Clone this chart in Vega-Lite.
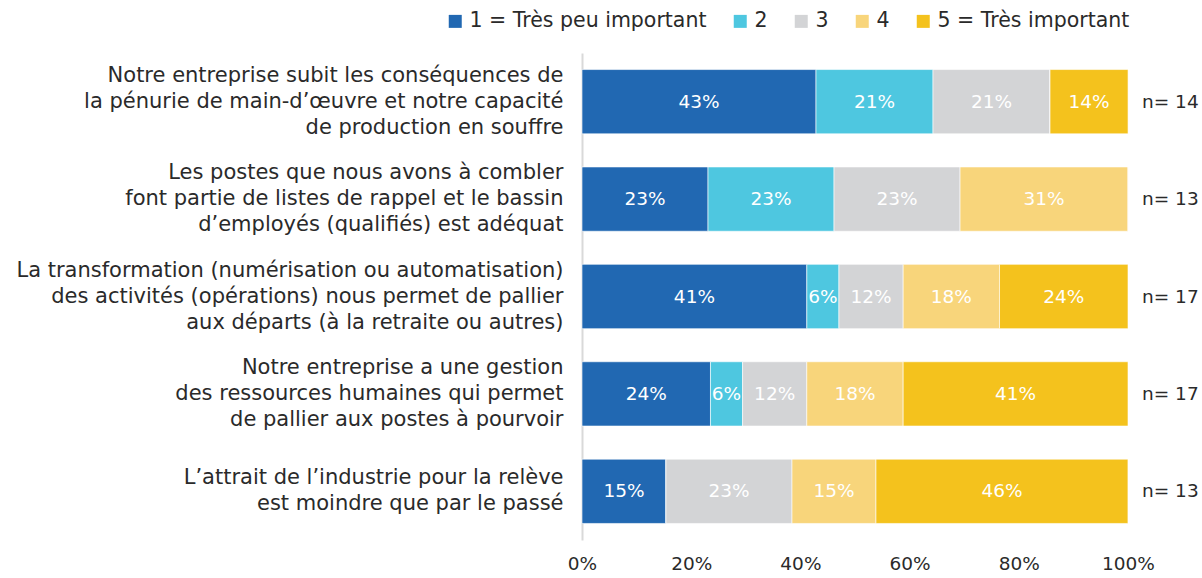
{
  "$schema": "https://vega.github.io/schema/vega-lite/v6.json",
  "width": 546,
  "height": 487,
  "autosize": {"type": "none"},
  "padding": {"left": 582, "top": 53, "right": 74, "bottom": 38},
  "config": {"view": {"stroke": null}, "font": "DejaVu Sans", "text": {"font": "DejaVu Sans"}},
  "data": {
    "values": [
      {"q": "Notre entreprise subit les conséquences de|la pénurie de main-d’œuvre et notre capacité|de production en souffre", "level": 1, "rep": "1 = Très peu important", "pct": 0.4286, "n": "n= 14"},
      {"q": "Notre entreprise subit les conséquences de|la pénurie de main-d’œuvre et notre capacité|de production en souffre", "level": 2, "rep": "2", "pct": 0.2143, "n": "n= 14"},
      {"q": "Notre entreprise subit les conséquences de|la pénurie de main-d’œuvre et notre capacité|de production en souffre", "level": 3, "rep": "3", "pct": 0.2143, "n": "n= 14"},
      {"q": "Notre entreprise subit les conséquences de|la pénurie de main-d’œuvre et notre capacité|de production en souffre", "level": 4, "rep": "4", "pct": 0, "n": "n= 14"},
      {"q": "Notre entreprise subit les conséquences de|la pénurie de main-d’œuvre et notre capacité|de production en souffre", "level": 5, "rep": "5 = Très important", "pct": 0.1429, "n": "n= 14"},
      {"q": "Les postes que nous avons à combler|font partie de listes de rappel et le bassin|d’employés (qualifiés) est adéquat", "level": 1, "rep": "1 = Très peu important", "pct": 0.2308, "n": "n= 13"},
      {"q": "Les postes que nous avons à combler|font partie de listes de rappel et le bassin|d’employés (qualifiés) est adéquat", "level": 2, "rep": "2", "pct": 0.2308, "n": "n= 13"},
      {"q": "Les postes que nous avons à combler|font partie de listes de rappel et le bassin|d’employés (qualifiés) est adéquat", "level": 3, "rep": "3", "pct": 0.2308, "n": "n= 13"},
      {"q": "Les postes que nous avons à combler|font partie de listes de rappel et le bassin|d’employés (qualifiés) est adéquat", "level": 4, "rep": "4", "pct": 0.3077, "n": "n= 13"},
      {"q": "Les postes que nous avons à combler|font partie de listes de rappel et le bassin|d’employés (qualifiés) est adéquat", "level": 5, "rep": "5 = Très important", "pct": 0, "n": "n= 13"},
      {"q": "La transformation (numérisation ou automatisation)|des activités (opérations) nous permet de pallier|aux départs (à la retraite ou autres)", "level": 1, "rep": "1 = Très peu important", "pct": 0.4118, "n": "n= 17"},
      {"q": "La transformation (numérisation ou automatisation)|des activités (opérations) nous permet de pallier|aux départs (à la retraite ou autres)", "level": 2, "rep": "2", "pct": 0.0588, "n": "n= 17"},
      {"q": "La transformation (numérisation ou automatisation)|des activités (opérations) nous permet de pallier|aux départs (à la retraite ou autres)", "level": 3, "rep": "3", "pct": 0.1176, "n": "n= 17"},
      {"q": "La transformation (numérisation ou automatisation)|des activités (opérations) nous permet de pallier|aux départs (à la retraite ou autres)", "level": 4, "rep": "4", "pct": 0.1765, "n": "n= 17"},
      {"q": "La transformation (numérisation ou automatisation)|des activités (opérations) nous permet de pallier|aux départs (à la retraite ou autres)", "level": 5, "rep": "5 = Très important", "pct": 0.2353, "n": "n= 17"},
      {"q": "Notre entreprise a une gestion|des ressources humaines qui permet|de pallier aux postes à pourvoir", "level": 1, "rep": "1 = Très peu important", "pct": 0.2353, "n": "n= 17"},
      {"q": "Notre entreprise a une gestion|des ressources humaines qui permet|de pallier aux postes à pourvoir", "level": 2, "rep": "2", "pct": 0.0588, "n": "n= 17"},
      {"q": "Notre entreprise a une gestion|des ressources humaines qui permet|de pallier aux postes à pourvoir", "level": 3, "rep": "3", "pct": 0.1176, "n": "n= 17"},
      {"q": "Notre entreprise a une gestion|des ressources humaines qui permet|de pallier aux postes à pourvoir", "level": 4, "rep": "4", "pct": 0.1765, "n": "n= 17"},
      {"q": "Notre entreprise a une gestion|des ressources humaines qui permet|de pallier aux postes à pourvoir", "level": 5, "rep": "5 = Très important", "pct": 0.4118, "n": "n= 17"},
      {"q": "L’attrait de l’industrie pour la relève|est moindre que par le passé", "level": 1, "rep": "1 = Très peu important", "pct": 0.1538, "n": "n= 13"},
      {"q": "L’attrait de l’industrie pour la relève|est moindre que par le passé", "level": 2, "rep": "2", "pct": 0, "n": "n= 13"},
      {"q": "L’attrait de l’industrie pour la relève|est moindre que par le passé", "level": 3, "rep": "3", "pct": 0.2308, "n": "n= 13"},
      {"q": "L’attrait de l’industrie pour la relève|est moindre que par le passé", "level": 4, "rep": "4", "pct": 0.1538, "n": "n= 13"},
      {"q": "L’attrait de l’industrie pour la relève|est moindre que par le passé", "level": 5, "rep": "5 = Très important", "pct": 0.4615, "n": "n= 13"}
    ]
  },
  "transform": [
    {"stack": "pct", "groupby": ["q"], "sort": [{"field": "level", "order": "ascending"}], "as": ["x0", "x1"]}
  ],
  "encoding": {
    "y": {
      "field": "q",
      "type": "nominal",
      "sort": [
        "Notre entreprise subit les conséquences de|la pénurie de main-d’œuvre et notre capacité|de production en souffre",
        "Les postes que nous avons à combler|font partie de listes de rappel et le bassin|d’employés (qualifiés) est adéquat",
        "La transformation (numérisation ou automatisation)|des activités (opérations) nous permet de pallier|aux départs (à la retraite ou autres)",
        "Notre entreprise a une gestion|des ressources humaines qui permet|de pallier aux postes à pourvoir",
        "L’attrait de l’industrie pour la relève|est moindre que par le passé"
      ],
      "scale": {"paddingInner": 0.34, "paddingOuter": 0.17},
      "axis": {
        "title": null,
        "ticks": false,
        "labelPadding": 19,
        "labelFontSize": 21,
        "labelColor": "#2a2a2a",
        "labelLineHeight": 26,
        "labelLimit": 700,
        "labelOffset": {"condition": {"test": "length(split(datum.label, '|')) == 2", "value": -13}, "value": -26},
        "labelExpr": "split(datum.label, '|')",
        "domainColor": "#d9d9d9",
        "domainWidth": 2
      }
    }
  },
  "layer": [
    {
      "mark": {"type": "bar", "stroke": "white", "strokeWidth": 1, "strokeOpacity": 0.6},
      "encoding": {
        "x": {
          "field": "x0",
          "type": "quantitative",
          "scale": {"domain": [0, 1], "nice": false},
          "axis": {
            "title": null,
            "format": "%",
            "values": [0, 0.2, 0.4, 0.6, 0.8, 1],
            "ticks": false,
            "domain": false,
            "grid": false,
            "labelFlush": false,
            "labelPadding": 14,
            "labelFontSize": 18.5,
            "labelColor": "#2a2a2a"
          }
        },
        "x2": {"field": "x1"},
        "color": {
          "field": "rep",
          "type": "nominal",
          "scale": {
            "domain": ["1 = Très peu important", "2", "3", "4", "5 = Très important"],
            "range": ["#2168B2", "#4EC7E0", "#D3D4D6", "#F8D57B", "#F4C21D"]
          },
          "legend": {
            "title": null,
            "orient": "none",
            "legendX": -137,
            "legendY": -42,
            "direction": "horizontal",
            "columns": 5,
            "symbolType": "square",
            "symbolSize": 169,
            "symbolStrokeWidth": 0,
            "labelFontSize": 20.5,
            "labelColor": "#2a2a2a",
            "labelOffset": 4,
            "columnPadding": 23,
            "labelLimit": 400
          }
        }
      }
    },
    {
      "transform": [{"filter": "datum.pct > 0"}, {"calculate": "(datum.x0 + datum.x1) / 2", "as": "mid"}],
      "mark": {"type": "text", "color": "white", "fontSize": 18.5},
      "encoding": {
        "x": {"field": "mid", "type": "quantitative"},
        "text": {"field": "pct", "type": "quantitative", "format": ".0%"}
      }
    },
    {
      "transform": [{"filter": "datum.level == 1"}],
      "mark": {"type": "text", "align": "left", "dx": 14, "fontSize": 18.5, "color": "#2a2a2a"},
      "encoding": {
        "x": {"datum": 1, "type": "quantitative"},
        "text": {"field": "n", "type": "nominal"}
      }
    }
  ]
}
